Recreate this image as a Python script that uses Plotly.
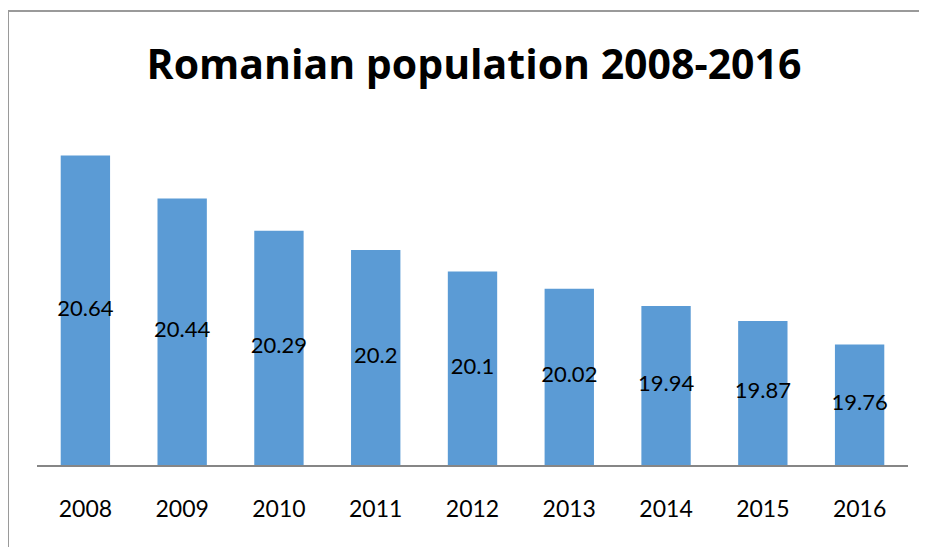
import plotly.graph_objects as go

years = ["2008", "2009", "2010", "2011", "2012", "2013", "2014", "2015", "2016"]
population = [20.64, 20.44, 20.29, 20.2, 20.1, 20.02, 19.94, 19.87, 19.76]
labels = [str(v) for v in population]
y_min, y_max = 19.2, 20.8

OFF = 8  # page body margin
W, H = 927 - OFF, 547 - OFF
L, R, T, B = 37 - OFF, 19, 121 - OFF, 82
pw, ph = W - L - R, H - T - B

def px_x(x):
    return (x - OFF - L) / pw

def px_y(y):
    return (H - B - (y - OFF)) / ph

fig = go.Figure()
fig.add_trace(go.Bar(
    x=years, y=population,
    marker=dict(color="#5B9BD5", line=dict(width=0)),
    hoverinfo="skip",
))
fig.add_trace(go.Scatter(
    x=years, y=[(y_min + v) / 2 for v in population], text=labels,
    mode="text", textposition="middle center",
    textfont=dict(family="Lato", size=22, color="black"),
    hoverinfo="skip",
))

border = "#9a9a9a"
fig.update_layout(
    width=W, height=H,
    margin=dict(l=L, r=R, t=T, b=B),
    paper_bgcolor="white", plot_bgcolor="white",
    bargap=0.49,
    showlegend=False,
    title=dict(text="<b>Romanian population 2008-2016</b>", x=px_x(474), xref="paper",
               xanchor="center",
               y=1 - (65 - OFF) / H, yanchor="middle",
               font=dict(family="Open Sans", size=41, color="black")),
    xaxis=dict(showline=True, linecolor="#868686", linewidth=2, ticks="",
               tickfont=dict(family="Lato", size=23, color="black"),
               showgrid=False, ticklabelstandoff=22),
    yaxis=dict(range=[y_min, y_max], visible=False, showgrid=False),
    shapes=[
        dict(type="line", xref="paper", yref="paper",
             x0=px_x(8), x1=px_x(8), y0=px_y(11), y1=px_y(547),
             line=dict(color=border, width=2)),
        dict(type="line", xref="paper", yref="paper",
             x0=px_x(8), x1=px_x(927), y0=px_y(11), y1=px_y(11),
             line=dict(color=border, width=2)),
    ],
)

fig.write_html("out.html", config={"displayModeBar": False})
